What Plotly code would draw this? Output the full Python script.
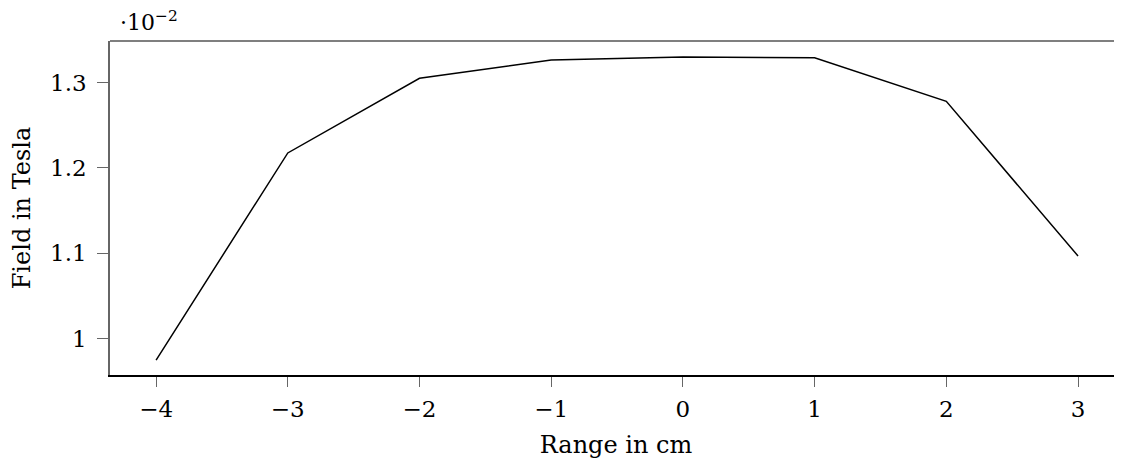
import plotly.graph_objects as go

# Range in cm
range_cm = [-4, -3, -2, -1, 0, 1, 2, 3]
# Field in Tesla, in units of 10^-2 T
field_e2 = [0.975, 1.2175, 1.305, 1.3264, 1.330, 1.329, 1.278, 1.0969]

x_ticks = [-4, -3, -2, -1, 0, 1, 2, 3]
x_tick_text = ["\u22124", "\u22123", "\u22122", "\u22121", "0", "1", "2", "3"]
y_ticks = [1.0, 1.1, 1.2, 1.3]
y_tick_text = ["1", "1.1", "1.2", "1.3"]

FONT = "DejaVu Serif"
FS = 24   # axis titles
TFS = 23  # tick labels

fig = go.Figure()
fig.add_trace(go.Scatter(x=range_cm, y=field_e2, mode="lines",
                         line=dict(color="black", width=1.5), showlegend=False))

fig.update_layout(
    width=1122, height=469,
    margin=dict(l=102, r=8, t=33, b=102, autoexpand=False),
    plot_bgcolor="white", paper_bgcolor="white",
    font=dict(family=FONT, size=TFS, color="black"),
    xaxis=dict(range=[-4.35, 3.334], tickvals=x_ticks, ticktext=x_tick_text,
               ticks="outside", ticklen=10, tickcolor="#666", tickwidth=1,
               ticklabelstandoff=3, automargin=False,
               showline=True, linecolor="black", linewidth=1.5, mirror=False,
               showgrid=False, zeroline=False,
               title=dict(text="Range in cm", standoff=15, font=dict(size=FS)),
               tickfont=dict(family=FONT, size=TFS)),
    yaxis=dict(range=[0.9575, 1.3486], tickvals=y_ticks, ticktext=y_tick_text,
               ticks="outside", ticklen=11, tickcolor="#666", tickwidth=1,
               ticklabelstandoff=6, automargin=False,
               showline=True, linecolor="#666", linewidth=1.5,
               showgrid=False, zeroline=False,
               title=dict(text="Field in Tesla", standoff=18, font=dict(size=FS)),
               tickfont=dict(family=FONT, size=TFS)),
)

# top border line
fig.add_shape(type="line", xref="paper", yref="paper", x0=0, x1=1, y0=1, y1=1,
              line=dict(color="#555", width=1.5))

fig.add_annotation(xref="paper", yref="paper", x=0.0, y=1.0, xanchor="left",
                   yanchor="bottom", xshift=8, yshift=4, showarrow=False,
                   text="\u00b710<sup>\u22122</sup>",
                   font=dict(family=FONT, size=22, color="black"))

fig.write_html("out.html")
